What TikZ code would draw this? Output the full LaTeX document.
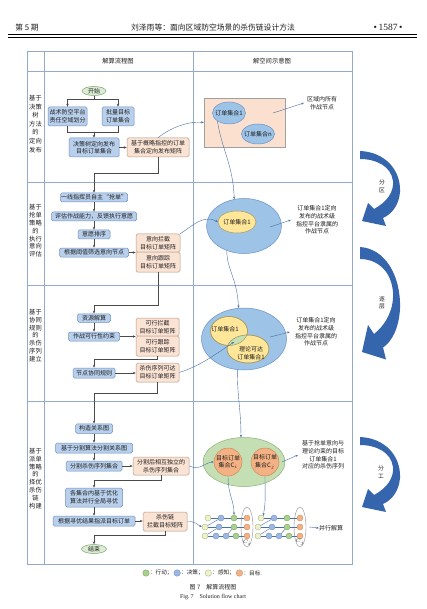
\documentclass[tikz,border=0pt]{standalone}
\usepackage{fontspec}
\setmainfont{Noto Sans CJK SC}
\newfontfamily\latfont{Liberation Serif}
\usetikzlibrary{arrows.meta,shapes.geometric}
\definecolor{txt}{HTML}{1F1F1F}
\definecolor{tline}{HTML}{93AACB}
\definecolor{bluefill}{HTML}{B9D0EC}
\definecolor{bluebd}{HTML}{6F8FBF}
\definecolor{peachfill}{HTML}{FBE3D4}
\definecolor{peachbd}{HTML}{B39888}
\definecolor{stfill}{HTML}{DCEBD3}
\definecolor{stbd}{HTML}{7DA56B}
\definecolor{rectfill}{HTML}{FBE0CF}
\definecolor{rectbd}{HTML}{A0A0A0}
\definecolor{ebfill}{HTML}{9DC3E6}
\definecolor{ebbd}{HTML}{6C93C7}
\definecolor{eyfill}{HTML}{FFE699}
\definecolor{eybd}{HTML}{A89C5E}
\definecolor{egfill}{HTML}{C5DFB4}
\definecolor{egbd}{HTML}{8DB07A}
\definecolor{lensfill}{HTML}{C5E0B4}
\definecolor{ofill}{HTML}{F4B183}
\definecolor{obd}{HTML}{C98C5E}
\definecolor{kyfill}{HTML}{EDF2CD}
\definecolor{kybd}{HTML}{A9B57A}
\definecolor{kbfill}{HTML}{9DB7E0}
\definecolor{kbbd}{HTML}{6B8FC2}
\definecolor{kgfill}{HTML}{A9D08E}
\definecolor{kgbd}{HTML}{7AA65A}
\definecolor{kofill}{HTML}{F4B183}
\definecolor{kobd}{HTML}{C98C5E}
\definecolor{lgray}{HTML}{4A4A4A}
\definecolor{rblue}{HTML}{4A70A8}
\definecolor{bigblue}{HTML}{3566AD}
\definecolor{ovbd}{HTML}{8A8A8A}
\newcommand\boxfont{\fontsize{6}{7.6}\selectfont}
\newcommand\sidefont{\fontsize{6.3}{7.8}\selectfont}
\newcommand\hdfont{\fontsize{7.8}{9}\selectfont}
\newcommand\hfont{\fontsize{6.3}{7.5}\selectfont}
\newcommand\capfont{\fontsize{6}{7}\selectfont}
\newcommand\legfont{\fontsize{5.6}{7}\selectfont}
\tikzset{
  tab/.style={draw=tline, line width=0.7pt},
  bbox/.style={draw=bluebd, fill=bluefill, rounded corners=1.6pt, line width=0.5pt, inner sep=0pt, align=center, font=\boxfont, text=txt},
  pbox/.style={draw=peachbd, fill=peachfill, rounded corners=1.6pt, line width=0.5pt, inner sep=0pt, align=center, font=\boxfont, text=txt},
  term/.style={ellipse, draw=stbd, fill=stfill, line width=0.5pt, inner sep=0pt, font=\boxfont, text=txt},
  conn/.style={draw=lgray, line width=0.45pt},
  arr/.style={conn, -{Stealth[length=3pt,width=2.4pt]}},
  rconn/.style={draw=rblue, line width=0.4pt},
  rarr/.style={rconn, -{Stealth[length=2.6pt,width=2.2pt]}},
  lbl/.style={font=\boxfont, align=center, text=txt, inner sep=0pt},
  sidelbl/.style={font=\sidefont, align=center, text=txt, inner sep=0pt},
  kn/.style={circle, draw=#1bd, fill=#1fill, line width=0.35pt, minimum size=6pt, inner sep=0pt},
  kline/.style={draw=rblue, line width=0.4pt},
  bigarrow/.pic={\fill[bigblue] (0,0) .. controls (25,1) and (41,19) .. (40,41) .. controls (39,54) and (32,63) .. (23,67) -- (26,75) -- (2,70) -- (8,52) -- (14,58) .. controls (27,51) and (34,41) .. (33,30) .. controls (31,15) and (16,8) .. (0,8) -- cycle;}
}
\begin{document}
\begin{tikzpicture}[x=1pt,y=-1pt]
\useasboundingbox (0,0) rectangle (427,609);
\fill[white] (0,0) rectangle (427,609);

% page header
\node[font=\hdfont, text=txt] (hl) at (27,28) {第 5 期};
\node[font=\hdfont, text=txt] (ht) at (213,28) {刘泽雨等：面向区域防空场景的杀伤链设计方法};
\node[font=\fontsize{9.5}{10}\selectfont\latfont, text=txt] (hr) at (388,27.5) {•\,1587\,•};
\draw[line width=1.3pt] (8,34.3) -- (417,34.3);
\draw[line width=0.45pt] (8,37.3) -- (417,37.3);

% table
\draw[tab] (27,51) rectangle (352,564);
\draw[tab] (44,51) -- (44,564);
\draw[tab] (193,51) -- (193,564);
\draw[tab] (27,71) -- (352,71);
\draw[tab] (27,182) -- (352,182);
\draw[tab] (27,285) -- (352,285);
\draw[tab] (27,401) -- (352,401);
\node[font=\hfont, text=txt] (h1) at (118,61) {解算流程图};
\node[font=\hfont, text=txt] (h2) at (272,61) {解空间示意图};

% side labels
\node[sidelbl, font=\fontsize{6.3}{8.6}\selectfont] (s1) at (35.5,124) {基于\\决策\\树\\方法\\的\\定向\\发布};
\node[sidelbl] (s2) at (35.5,231) {基于\\抢单\\策略\\的\\执行\\意向\\评估};
\node[sidelbl] (s3) at (35.5,335.5) {基于\\协同\\规则\\的\\杀伤\\序列\\建立};
\node[sidelbl] (s4) at (35.5,478.5) {基于\\派单\\策略\\的\\择优\\杀伤\\链\\构建};

% ---------- row 1 flow
\node[term, minimum width=24pt, minimum height=9pt] (start) at (94,91) {开始};
\node[bbox, minimum width=39pt, minimum height=19pt] (b1) at (67.5,116.5) {战术防空平台\\责任空域划分};
\node[bbox, minimum width=32pt, minimum height=19pt] (b2) at (118,116.5) {批量目标\\订单集合};
\node[bbox, minimum width=50pt, minimum height=19pt] (b3) at (94,147.5) {决策树定向发布\\目标订单集合};
\node[pbox, minimum width=62pt, minimum height=19pt] (p1) at (158,147.5) {基于概略指控的订单\\集合定向发布矩阵};
\coordinate (j1) at (94,99);
\coordinate (j2) at (94,132);
\draw[conn] (start.south) -- (j1);
\draw[arr] (j1) -| (b1.north);
\draw[arr] (j1) -| (b2.north);
\draw[conn] (b1.south) |- (j2);
\draw[conn] (b2.south) |- (j2);
\draw[arr] (j2) -- (b3.north);
\draw[arr] (b3.east) -- (p1.west);

% ---------- row 1 right
\node[rectangle, draw=rectbd, fill=rectfill, line width=0.5pt, minimum width=81pt, minimum height=49pt] (rect1) at (244.5,122.5) {};
\node[ellipse, draw=ebbd, fill=ebfill, line width=0.5pt, minimum width=33pt, minimum height=22pt, inner sep=0pt, label={[lbl]center:订单集合1}] (e1a) at (229,113) {};
\node[ellipse, draw=ebbd, fill=ebfill, line width=0.5pt, minimum width=33pt, minimum height=20pt, inner sep=0pt, label={[lbl]center:订单集合n}] (e1b) at (258,134) {};
\coordinate (sa1) at (273,113);
\node[lbl] (t1) at (322,103) {区域内所有\\作战节点};
\draw[rarr] (sa1) -- ([xshift=-3pt]t1.west);
\draw[rarr] (p1.north) .. controls (170,128) and (188,121) .. (rect1.west);

% ---------- row 2 flow
\node[bbox, minimum width=67pt, minimum height=9pt] (r2a) at (94,197.5) {一线指挥员自主“抢单”};
\node[bbox, minimum width=85pt, minimum height=9pt] (r2b) at (94,216.5) {评估作战能力，反馈执行意愿};
\node[bbox, minimum width=32pt, minimum height=9pt] (r2c) at (94,234.5) {意愿排序};
\node[bbox, minimum width=69pt, minimum height=9pt] (r2d) at (94,252.5) {根据阈值筛选意向节点};
\node[pbox, minimum width=44pt, minimum height=18pt] (p2a) at (158,243) {意向拦截\\目标订单矩阵};
\node[pbox, minimum width=44pt, minimum height=20pt] (p2b) at (158,262) {意向跟踪\\目标订单矩阵};
\coordinate (j3) at (94,173);
\draw[arr] (p1.south) |- (j3) -- (r2a.north);
\draw[arr] (r2a) -- (r2b);
\draw[arr] (r2b) -- (r2c);
\draw[arr] (r2c) -- (r2d);
\draw[arr] (r2d.east) -- (r2d.east -| p2a.west);

% ---------- row 2 right
\node[ellipse, draw=ebbd, fill=ebfill, line width=0.5pt, minimum width=75pt, minimum height=55pt] (e2big) at (244,226) {};
\node[ellipse, draw=eybd, fill=eyfill, line width=0.5pt, minimum width=38pt, minimum height=22pt, inner sep=0pt, label={[lbl]center:订单集合1}] (e2s) at (237,222) {};
\coordinate (sa2) at (270,227);
\node[lbl] (t2) at (317,220) {订单集合1定向\\发布的战术级\\指控平台隶属的\\作战节点};
\draw[rarr] (sa2) -- ([xshift=-5pt]t2.west);
\draw[rarr] (e1a.215) .. controls (222,150) and (233,165) .. (e2big.110);
\draw[rarr] (p2a.north east) .. controls (192,226) and (204,214) .. (e2s.west);

% ---------- row 3 flow
\node[bbox, minimum width=33pt, minimum height=8.5pt] (r3a) at (94,318) {资源解算};
\node[bbox, minimum width=51pt, minimum height=9pt] (r3b) at (94,336.5) {作战可行性约束};
\node[pbox, minimum width=43pt, minimum height=18pt] (p3a) at (157.5,327) {可行拦截\\目标订单矩阵};
\node[pbox, minimum width=43pt, minimum height=20pt] (p3b) at (157.5,346) {可行跟踪\\目标订单矩阵};
\node[bbox, minimum width=42pt, minimum height=10pt] (r3c) at (94,373) {节点协同规则};
\node[pbox, minimum width=43pt, minimum height=19pt] (p3c) at (157.5,372.5) {杀伤序列可达\\目标订单矩阵};
\coordinate (j4) at (94,305);
\coordinate (j5) at (94,359);
\draw[arr] (p2b.south) |- (j4) -- (r3a.north);
\draw[arr] (r3a) -- (r3b);
\draw[arr] (r3b.east) -- (r3b.east -| p3a.west);
\draw[arr] (p3b.south) |- (j5) -- (r3c.north);
\draw[arr] (r3c.east) -- (r3c.east -| p3c.west);

% ---------- row 3 right
\node[ellipse, draw=ebbd, fill=ebfill, line width=0.5pt, minimum width=85pt, minimum height=62pt] (e3big) at (244,339) {};
\node[ellipse, draw=eybd, fill=eyfill, line width=0.5pt, minimum width=37pt, minimum height=29pt] (e3a) at (229,331) {};
\node[ellipse, draw=eybd, fill=eyfill, line width=0.5pt, minimum width=42pt, minimum height=28pt] (e3b) at (248,349) {};
\begin{scope}
  \clip (229,331) ellipse [x radius=18.5pt, y radius=14.5pt];
  \fill[lensfill] (248,349) ellipse [x radius=21pt, y radius=14pt];
\end{scope}
\draw[eybd, line width=0.5pt] (229,331) ellipse [x radius=18.5pt, y radius=14.5pt];
\draw[eybd, line width=0.5pt] (248,349) ellipse [x radius=21pt, y radius=14pt];
\node[lbl] (l3a) at (225,329) {订单集合1};
\node[lbl] (l3b) at (251,353) {理论可达\\订单集合1};
\coordinate (ins) at (234,342);
\coordinate (sa3) at (270,337);
\node[lbl] (t3) at (316,332) {订单集合1定向\\发布的战术级\\指控平台隶属的\\作战节点};
\draw[rarr] (sa3) -- ([xshift=-5pt]t3.west);
\draw[rarr] (e2big.235) .. controls (227,270) and (237,278) .. (e3big.100);
\draw[rarr] (p3c.east) .. controls (200,366) and (216,354) .. (ins);

% ---------- row 4 flow
\node[bbox, minimum width=37pt, minimum height=9.5pt] (r4a) at (94,428.5) {构造关系图};
\node[bbox, minimum width=77pt, minimum height=10pt] (r4b) at (94,448) {基于分割算法分割关系图};
\node[bbox, minimum width=56pt, minimum height=10pt] (r4c) at (94,466) {分割杀伤序列集合};
\node[pbox, minimum width=56pt, minimum height=18pt] (p4a) at (161,466) {分割后相互独立的\\杀伤序列集合};
\node[bbox, minimum width=57pt, minimum height=19pt] (r4d) at (94,497.5) {各集合内基于优化\\算法并行全局寻优};
\node[bbox, minimum width=82pt, minimum height=10pt] (r4e) at (94,521) {根据寻优结果指派目标订单};
\node[pbox, minimum width=44pt, minimum height=19pt] (p4b) at (165,521.5) {杀伤链\\拦截目标矩阵};
\node[term, minimum width=25pt, minimum height=9pt] (stop) at (94,549) {结束};
\coordinate (j6) at (94,393);
\coordinate (j7) at (94,480);
\coordinate (j8) at (94,535);
\draw[arr] (p3c.south) |- (j6) -- (r4a.north);
\draw[arr] (r4a) -- (r4b);
\draw[arr] (r4b) -- (r4c);
\draw[arr] (r4c.east) -- (p4a.west);
\draw[arr] (p4a.south) |- (j7) -- (r4d.north);
\draw[arr] (r4d) -- (r4e);
\draw[arr] (r4e.east) -- (r4e.east -| p4b.west);
\draw[arr] (p4b.south) |- (j8) -- (stop.north);

% ---------- row 4 right
\node[ellipse, draw=egbd, fill=egfill, line width=0.5pt, minimum width=82pt, minimum height=49pt] (e4big) at (244,462) {};
\node[circle, draw=obd, fill=ofill, line width=0.5pt, minimum size=28pt, inner sep=0pt, label={[lbl]center:{目标订单\\集合C$_i$}}] (ci) at (228,462) {};
\node[circle, draw=obd, fill=ofill, line width=0.5pt, minimum size=28pt, inner sep=0pt, label={[lbl]center:{目标订单\\集合C$_j$}}] (cj) at (265,462) {};
\coordinate (sa4) at (282,462);
\node[lbl] (t4) at (323,455) {基于抢单意向与\\理论约束的目标\\订单集合1\\对应的杀伤序列};
\draw[rarr] (sa4) -- ([xshift=-4pt]t4.west);
\draw[rarr] (e3big.258) .. controls (237,395) and (241,410) .. (e4big.97);
\draw[rarr] (p4a.east) .. controls (200,471) and (206,462) .. (ci.west);

% kill chains
\foreach \g/\dx/\s in {a/0/i,b/53/j} {
  \node[ellipse, draw=ovbd, line width=0.4pt, minimum width=12pt, minimum height=40pt, inner sep=0pt] (\g ov) at (247+\dx,527) {};
  \node[kn=ky] (\g y1) at (208+\dx,518) {};
  \node[kn=kb] (\g b1) at (221+\dx,518) {};
  \node[kn=kg] (\g g1) at (234+\dx,518) {};
  \node[kn=ko] (\g o1) at (247+\dx,518) {};
  \node[kn=ky] (\g y2) at (205+\dx,527) {};
  \node[kn=kb] (\g b2) at (219+\dx,527) {};
  \node[kn=kg] (\g g2) at (234+\dx,527) {};
  \node[kn=ko] (\g o2) at (247+\dx,527) {};
  \node[kn=ky] (\g y3) at (205+\dx,536) {};
  \node[kn=kb] (\g b3) at (216+\dx,536) {};
  \node[kn=kb] (\g c3) at (226+\dx,536) {};
  \node[kn=kg] (\g g3) at (236+\dx,536) {};
  \node[kn=ko] (\g o3) at (247+\dx,536) {};
  \draw[kline] (\g y1) -- (\g b1) -- (\g g1) -- (\g o1);
  \draw[kline] (\g y2) -- (\g b2) -- (\g g2) -- (\g o2);
  \draw[kline] (\g y3) -- (\g b3) -- (\g c3) -- (\g g3) -- (\g o3);
  \draw[kline] (\g y3) -- (\g b2);
  \draw[kline] (\g c3) -- (\g g2);
  \draw[kline] (\g y2) -- (\g b1);
  \node[font=\fontsize{5.5}{6}\selectfont, text=txt, inner sep=0pt] (\g lab) at (247+\dx,542.5) {$C_\s$};
}
\draw[rarr] (ci.south) .. controls (228,495) and (234,500) .. (ag1.north);
\draw[rarr] (cj.south) .. controls (265,495) and (266,500) .. (by1.north east);
\draw[rarr] (p4b.east) .. controls (195,521) and (198,525) .. (ay2.west);
\node[lbl] (par) at (331,528) {并行解算};
\draw[rarr] ([xshift=3pt]bov.east) -- (par.west);

% big curved arrows
\pic (ba1) at (360,151) {bigarrow};
\pic[yscale=1.5] (ba2) at (360,247) {bigarrow};
\pic (ba3) at (360,437) {bigarrow};
\node[sidelbl, font=\fontsize{5.8}{7.8}\selectfont] (ar1) at (382,186) {分\\区};
\node[sidelbl, font=\fontsize{5.8}{7.8}\selectfont] (ar2) at (382,303) {逐\\层};
\node[sidelbl, font=\fontsize{5.8}{7.8}\selectfont] (ar3) at (381,472) {分\\工};

% legend
\node[kn=kg, minimum size=6.5pt] (lg1) at (146,573) {};
\node[lbl, font=\legfont, anchor=west] (lt1) at ([xshift=0.5pt]lg1.east) {：行动；};
\node[kn=kb, minimum size=6.5pt, anchor=west] (lg2) at ([xshift=1pt]lt1.east) {};
\node[lbl, font=\legfont, anchor=west] (lt2) at ([xshift=0.5pt]lg2.east) {：决策；};
\node[kn=ky, minimum size=6.5pt, anchor=west] (lg3) at ([xshift=1pt]lt2.east) {};
\node[lbl, font=\legfont, anchor=west] (lt3) at ([xshift=0.5pt]lg3.east) {：感知；};
\node[kn=ko, minimum size=6.5pt, anchor=west] (lg4) at ([xshift=1pt]lt3.east) {};
\node[lbl, font=\legfont, anchor=west] (lt4) at ([xshift=0.5pt]lg4.east) {：目标.};

% caption
\node[font=\capfont, text=txt] (cap1) at (213,587) {图 7\quad 解算流程图};
\node[font=\capfont\latfont, text=txt] (cap2) at (213,597) {Fig.\,7\quad Solution flow chart};
\end{tikzpicture}
\end{document}
